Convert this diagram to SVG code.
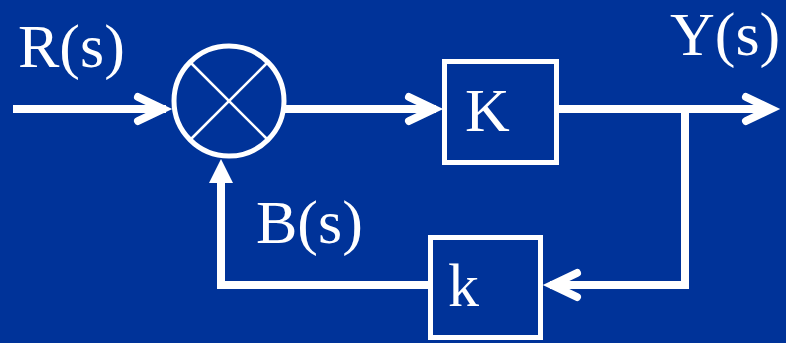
<svg xmlns="http://www.w3.org/2000/svg" xmlns:xlink="http://www.w3.org/1999/xlink" width="786" height="343" viewBox="0 0 786 343">
<style>
.bg{fill:#003399}
.ln{fill:none;stroke:#fff;stroke-width:8;stroke-linejoin:miter}
.chev{fill:none;stroke:#fff;stroke-width:8;stroke-linecap:round;stroke-linejoin:miter;stroke-miterlimit:10}
.box{fill:none;stroke:#fff;stroke-width:5}
.thin{stroke:#fff;stroke-width:2.5}
.lbl{font-family:"Liberation Serif","Times New Roman",Times,serif;font-size:62px;fill:#fff}
</style>
<defs>
<path id="chev" class="chev" d="M-25,-12 L0,0 L-25,12"/>
</defs>
<rect class="bg" x="0" y="0" width="786" height="343"/>
<g id="connectors">
<line class="ln" x1="13" y1="109" x2="166" y2="109"/>
<use xlink:href="#chev" transform="translate(163,109)"/>
<line class="ln" x1="284" y1="109" x2="436" y2="109"/>
<use xlink:href="#chev" transform="translate(434,109)"/>
<line class="ln" x1="557" y1="109" x2="772" y2="109"/>
<use xlink:href="#chev" transform="translate(771,109)"/>
<polyline class="ln" points="685,109 685,285 550,285"/>
<use xlink:href="#chev" transform="translate(552,285) rotate(180)"/>
<polyline class="ln" points="428,285 221,285 221,180"/>
<polygon fill="#fff" points="221,159 209,183 233,183"/>
</g>
<g id="sum">
<circle class="box" cx="229" cy="101" r="55"/>
<line class="thin" x1="190" y1="62" x2="268" y2="140"/>
<line class="thin" x1="268" y1="62" x2="190" y2="140"/>
</g>
<g id="K">
<rect class="box" x="444.5" y="61.5" width="112" height="101"/>
<text class="lbl" x="465" y="131">K</text>
</g>
<g id="k">
<rect class="box" x="430.5" y="237.5" width="110" height="100"/>
<text class="lbl" x="448" y="306">k</text>
</g>
<g id="labels">
<text class="lbl" x="18" y="67">R(s)</text>
<text class="lbl" x="670" y="55">Y(s)</text>
<text class="lbl" x="256" y="243">B(s)</text>
</g>
</svg>
